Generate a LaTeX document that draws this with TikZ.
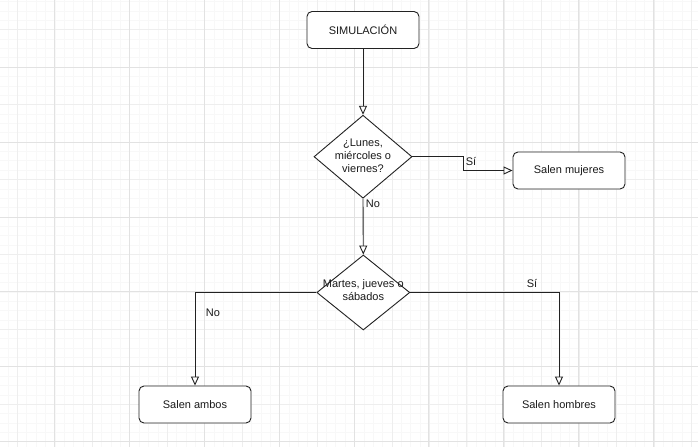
\documentclass[tikz,border=0pt]{standalone}
\usepackage{fontspec}
\setmainfont{Liberation Sans}
\usetikzlibrary{arrows.meta,shapes.geometric}
\definecolor{gridminor}{HTML}{F8F8F8}
\definecolor{gridmid}{HTML}{EEEEEE}
\definecolor{gridmajor}{HTML}{E2E2E2}
\definecolor{ink}{HTML}{222222}
\definecolor{txt}{HTML}{1A1A1A}
\tikzset{
  procbox/.style={draw=ink, line width=0.9pt, rounded corners=5pt, fill=white,
    minimum width=112pt, minimum height=37pt, inner sep=0pt,
    font=\fontsize{11}{13}\selectfont, text=txt},
  decision/.style={draw=ink, line width=0.9pt, diamond, fill=white, inner sep=0pt},
  dtext/.style={align=center, font=\fontsize{11}{13}\selectfont, text=txt, inner sep=0pt},
  flow/.style={draw=ink, line width=0.9pt,
    -{Triangle[open, length=9pt, width=8pt, fill=white]}},
  elabel/.style={font=\fontsize{11}{13}\selectfont, text=txt, inner sep=0pt},
}
\begin{document}
\begin{tikzpicture}[x=1pt,y=-1pt]
\useasboundingbox (0,0) rectangle (698,447);
\fill[white] (0,0) rectangle (698,447);
% minor grid
\foreach \i in {-8,...,80} {
  \pgfmathsetmacro{\xx}{17.3+\i*37.45/4}
  \ifdim \xx pt < 698pt \ifdim \xx pt > 0pt
    \draw[gridminor, line width=0.4pt] (\xx,0) -- (\xx,447);
  \fi\fi
}
\foreach \i in {-8,...,60} {
  \pgfmathsetmacro{\yy}{29.6+\i*37.45/4}
  \ifdim \yy pt < 447pt \ifdim \yy pt > 0pt
    \draw[gridminor, line width=0.4pt] (0,\yy) -- (698,\yy);
  \fi\fi
}
% mid grid
\foreach \i in {0,...,18} {
  \draw[gridmid, line width=0.6pt] ({17.3+\i*37.45},0) -- ({17.3+\i*37.45},447);
}
\foreach \i in {0,...,11} {
  \draw[gridmid, line width=0.6pt] (0,{29.6+\i*37.45}) -- (698,{29.6+\i*37.45});
}
% major grid
\foreach \i in {0,...,8} {
  \draw[gridmajor, line width=0.7pt] ({54.3+\i*74.9},0) -- ({54.3+\i*74.9},447);
}
\foreach \i in {0,...,5} {
  \draw[gridmajor, line width=0.7pt] (0,{67.1+\i*74.9}) -- (698,{67.1+\i*74.9});
}

% nodes
\node[procbox] (sim) at (363,30) {SIMULACIÓN};
\node[decision, minimum width=98pt, minimum height=83pt] (d1) at (363,156.7) {};
\node[dtext] (d1t) at (363,156) {¿Lunes,\\miércoles o\\viernes?};
\node[procbox] (muj) at (569,170.5) {Salen mujeres};
\node[decision, minimum width=93pt, minimum height=75pt] (d2) at (363.3,292.5) {};
\node[dtext] (d2t) at (363.3,290.5) {Martes, jueves o\\sábados};
\node[procbox] (amb) at (195,404.5) {Salen ambos};
\node[procbox] (hom) at (559,404.5) {Salen hombres};

% connectors
\draw[flow] (sim.south) -- (d1.north);
\draw[flow] (d1.east) -- ++(51,0) |- (muj.west);
\draw[flow] (d1.south) -- (d2.north);
\draw[flow] (d2.west) -| (amb.north);
\draw[flow] (d2.east) -| (hom.north);

% labels
\node[elabel] (lsi1) at (471,162) {Sí};
\node[elabel] (lno1) at (373,204) {No};
\node[elabel] (lno2) at (213,313) {No};
\node[elabel] (lsi2) at (532,283) {Sí};
\end{tikzpicture}
\end{document}
